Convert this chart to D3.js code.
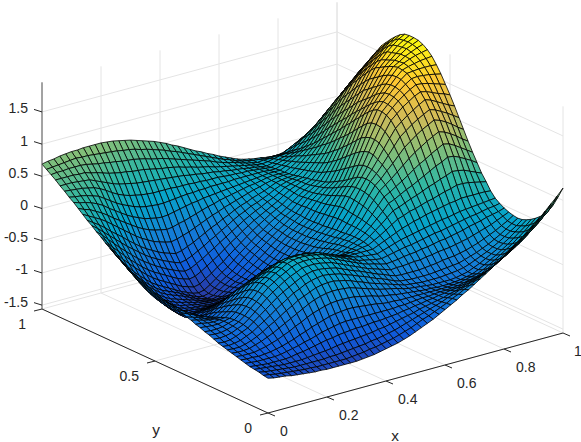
<!DOCTYPE html>
<html><head><meta charset="utf-8">
<script src="https://cdn.jsdelivr.net/npm/d3@7"></script>
<style>body{margin:0;background:#fff}text{font-family:"Liberation Sans",sans-serif;font-size:14px;fill:#262626}</style>
</head><body><svg width="581" height="442"></svg>
<script>
// Surface heights, estimated by eye: read off the picture about every 0.1, then filled in by hand.
// One row per y (0 to 1 in steps of 0.02), one value per x (0 to 1 in steps of 0.02).
const zRows = [
[-1.02,-1.04,-1.05,-1.06,-1.08,-1.09,-1.10,-1.11,-1.12,-1.12,-1.13,-1.13,-1.13,-1.13,-1.13,-1.13,-1.12,-1.11,-1.10,-1.08,-1.06,-1.04,-1.02,-.99,-.96,-.92,-.88,-.84,-.80,-.75,-.70,-.65,-.60,-.54,-.49,-.43,-.37,-.31,-.25,-.18,-.12,-.05,.02,.09,.16,.24,.32,.41,.50,.59,.69],
[-1.01,-1.02,-1.04,-1.05,-1.06,-1.07,-1.08,-1.09,-1.09,-1.10,-1.10,-1.10,-1.10,-1.10,-1.10,-1.09,-1.08,-1.07,-1.05,-1.04,-1.02,-1.00,-.98,-.95,-.92,-.89,-.85,-.81,-.78,-.74,-.70,-.66,-.61,-.57,-.52,-.48,-.43,-.38,-.33,-.27,-.22,-.16,-.09,-.03,.04,.11,.19,.27,.36,.44,.53],
[-.99,-1.01,-1.02,-1.03,-1.04,-1.05,-1.06,-1.06,-1.06,-1.06,-1.06,-1.06,-1.05,-1.05,-1.04,-1.03,-1.02,-1.01,-1.00,-.98,-.97,-.95,-.93,-.91,-.88,-.85,-.82,-.79,-.76,-.73,-.70,-.67,-.63,-.60,-.56,-.53,-.49,-.45,-.41,-.36,-.32,-.26,-.20,-.14,-.08,-.02,.05,.13,.21,.29,.38],
[-.98,-.99,-1.00,-1.01,-1.02,-1.03,-1.03,-1.03,-1.03,-1.02,-1.01,-1.00,-.99,-.98,-.96,-.95,-.94,-.93,-.92,-.91,-.90,-.88,-.87,-.85,-.83,-.81,-.79,-.77,-.74,-.72,-.70,-.68,-.66,-.63,-.61,-.58,-.55,-.52,-.49,-.45,-.41,-.36,-.30,-.25,-.19,-.13,-.06,.02,.09,.18,.26],
[-.97,-.98,-.99,-1.00,-1.00,-1.00,-1.00,-.99,-.97,-.96,-.94,-.92,-.90,-.88,-.87,-.85,-.84,-.83,-.82,-.82,-.81,-.80,-.80,-.79,-.78,-.77,-.75,-.74,-.72,-.71,-.69,-.68,-.66,-.65,-.63,-.62,-.60,-.57,-.55,-.52,-.49,-.45,-.39,-.34,-.28,-.22,-.15,-.08,-.01,.08,.16],
[-.95,-.96,-.97,-.97,-.97,-.97,-.96,-.94,-.92,-.90,-.87,-.85,-.82,-.79,-.77,-.75,-.73,-.72,-.72,-.72,-.72,-.72,-.72,-.72,-.72,-.72,-.71,-.71,-.70,-.69,-.68,-.68,-.67,-.66,-.66,-.65,-.64,-.62,-.60,-.58,-.55,-.50,-.45,-.40,-.34,-.28,-.22,-.15,-.07,.01,.09],
[-.93,-.94,-.94,-.95,-.94,-.93,-.91,-.89,-.86,-.83,-.79,-.76,-.72,-.69,-.66,-.63,-.61,-.60,-.59,-.59,-.60,-.61,-.62,-.63,-.65,-.66,-.66,-.67,-.67,-.67,-.67,-.67,-.67,-.67,-.67,-.67,-.66,-.65,-.63,-.61,-.59,-.55,-.50,-.45,-.39,-.33,-.27,-.20,-.13,-.05,.03],
[-.91,-.92,-.92,-.92,-.90,-.88,-.85,-.82,-.78,-.74,-.69,-.65,-.60,-.56,-.53,-.50,-.48,-.47,-.47,-.47,-.48,-.50,-.52,-.54,-.57,-.59,-.60,-.62,-.63,-.64,-.65,-.66,-.67,-.67,-.68,-.68,-.68,-.67,-.66,-.64,-.62,-.58,-.53,-.48,-.43,-.37,-.31,-.24,-.17,-.10,-.02],
[-.89,-.90,-.90,-.89,-.86,-.83,-.79,-.75,-.70,-.65,-.60,-.55,-.50,-.45,-.41,-.38,-.36,-.35,-.35,-.36,-.37,-.40,-.43,-.46,-.49,-.52,-.54,-.56,-.58,-.61,-.63,-.64,-.65,-.66,-.67,-.67,-.67,-.67,-.66,-.64,-.62,-.58,-.54,-.49,-.44,-.39,-.33,-.27,-.20,-.13,-.06],
[-.87,-.88,-.88,-.86,-.83,-.79,-.74,-.68,-.63,-.57,-.51,-.46,-.40,-.36,-.32,-.28,-.26,-.25,-.25,-.27,-.29,-.32,-.36,-.39,-.43,-.46,-.49,-.52,-.55,-.58,-.61,-.62,-.63,-.64,-.64,-.64,-.64,-.63,-.62,-.61,-.59,-.56,-.52,-.48,-.44,-.39,-.34,-.28,-.22,-.16,-.09],
[-.85,-.86,-.85,-.83,-.79,-.75,-.69,-.63,-.57,-.50,-.44,-.38,-.32,-.28,-.23,-.20,-.18,-.17,-.18,-.20,-.22,-.26,-.29,-.33,-.36,-.40,-.44,-.47,-.51,-.55,-.58,-.59,-.60,-.60,-.60,-.60,-.59,-.58,-.57,-.56,-.55,-.52,-.49,-.46,-.42,-.38,-.33,-.28,-.22,-.16,-.10],
[-.83,-.84,-.83,-.80,-.76,-.72,-.65,-.58,-.51,-.44,-.37,-.31,-.26,-.21,-.16,-.13,-.11,-.11,-.12,-.14,-.16,-.20,-.24,-.28,-.31,-.35,-.39,-.43,-.46,-.50,-.53,-.54,-.54,-.54,-.54,-.53,-.52,-.51,-.49,-.48,-.47,-.45,-.43,-.40,-.37,-.33,-.29,-.25,-.20,-.15,-.09],
[-.80,-.81,-.80,-.78,-.74,-.70,-.63,-.55,-.47,-.39,-.32,-.26,-.20,-.15,-.11,-.07,-.06,-.06,-.07,-.09,-.11,-.15,-.19,-.23,-.27,-.31,-.35,-.38,-.41,-.44,-.47,-.46,-.46,-.45,-.44,-.44,-.42,-.41,-.39,-.38,-.37,-.35,-.33,-.31,-.28,-.25,-.22,-.19,-.15,-.11,-.07],
[-.77,-.78,-.78,-.76,-.73,-.69,-.62,-.53,-.45,-.36,-.28,-.22,-.16,-.11,-.06,-.03,-.02,-.02,-.03,-.05,-.07,-.11,-.15,-.19,-.23,-.27,-.31,-.34,-.36,-.39,-.41,-.40,-.39,-.37,-.36,-.35,-.33,-.32,-.30,-.28,-.27,-.25,-.23,-.21,-.18,-.16,-.14,-.11,-.09,-.07,-.04],
[-.75,-.76,-.76,-.75,-.72,-.69,-.62,-.53,-.44,-.35,-.26,-.20,-.14,-.09,-.04,-.01,.00,.00,-.01,-.03,-.05,-.09,-.13,-.17,-.21,-.25,-.29,-.31,-.33,-.35,-.36,-.34,-.32,-.30,-.28,-.27,-.25,-.23,-.21,-.19,-.18,-.16,-.14,-.12,-.10,-.08,-.07,-.05,-.03,-.02,.00],
[-.72,-.73,-.74,-.74,-.72,-.70,-.63,-.54,-.45,-.36,-.27,-.21,-.15,-.10,-.05,-.02,-.01,-.01,-.02,-.04,-.05,-.09,-.13,-.17,-.21,-.24,-.27,-.29,-.30,-.31,-.32,-.29,-.26,-.23,-.20,-.18,-.16,-.14,-.12,-.10,-.08,-.06,-.05,-.03,-.01,.00,.01,.02,.03,.04,.05],
[-.70,-.71,-.73,-.74,-.73,-.72,-.65,-.57,-.48,-.39,-.30,-.25,-.19,-.14,-.09,-.06,-.05,-.05,-.06,-.07,-.09,-.13,-.17,-.20,-.23,-.26,-.28,-.28,-.28,-.28,-.28,-.24,-.20,-.16,-.12,-.08,-.05,-.02,.00,.03,.05,.07,.09,.11,.12,.14,.14,.14,.14,.14,.13],
[-.67,-.69,-.72,-.74,-.75,-.75,-.69,-.61,-.53,-.44,-.35,-.30,-.25,-.20,-.16,-.13,-.12,-.11,-.12,-.13,-.15,-.18,-.22,-.25,-.28,-.30,-.30,-.29,-.28,-.26,-.25,-.20,-.15,-.09,-.03,.03,.06,.10,.12,.15,.18,.20,.23,.26,.28,.31,.31,.30,.28,.26,.24],
[-.65,-.68,-.71,-.75,-.77,-.78,-.72,-.65,-.58,-.50,-.41,-.36,-.32,-.27,-.23,-.20,-.19,-.18,-.19,-.20,-.22,-.25,-.28,-.31,-.33,-.34,-.34,-.32,-.29,-.26,-.23,-.17,-.10,-.03,.05,.13,.16,.20,.24,.27,.31,.35,.38,.42,.45,.49,.48,.46,.42,.38,.34],
[-.62,-.66,-.70,-.75,-.78,-.81,-.76,-.70,-.64,-.56,-.48,-.43,-.39,-.34,-.30,-.27,-.26,-.26,-.26,-.28,-.30,-.33,-.35,-.37,-.38,-.38,-.37,-.34,-.30,-.26,-.22,-.15,-.07,.02,.11,.21,.25,.30,.35,.39,.44,.49,.54,.59,.63,.68,.67,.63,.58,.53,.47],
[-.60,-.65,-.70,-.75,-.80,-.85,-.80,-.75,-.69,-.62,-.55,-.50,-.46,-.42,-.38,-.35,-.34,-.34,-.35,-.36,-.38,-.40,-.41,-.42,-.42,-.42,-.39,-.35,-.31,-.26,-.22,-.14,-.05,.06,.17,.28,.33,.39,.45,.51,.58,.64,.69,.75,.80,.85,.83,.78,.72,.66,.60],
[-.58,-.64,-.71,-.77,-.83,-.89,-.85,-.80,-.75,-.69,-.63,-.59,-.55,-.50,-.47,-.44,-.44,-.44,-.45,-.46,-.47,-.48,-.48,-.48,-.47,-.46,-.42,-.37,-.32,-.27,-.22,-.13,-.03,.10,.22,.34,.41,.48,.56,.64,.72,.79,.85,.91,.96,1.01,.98,.93,.87,.80,.74],
[-.56,-.64,-.72,-.79,-.86,-.93,-.90,-.86,-.82,-.77,-.72,-.68,-.64,-.60,-.57,-.54,-.54,-.54,-.55,-.55,-.56,-.56,-.55,-.54,-.52,-.50,-.45,-.39,-.34,-.28,-.23,-.13,-.02,.12,.26,.39,.47,.57,.66,.76,.86,.93,1.00,1.06,1.11,1.16,1.13,1.08,1.02,.95,.89],
[-.54,-.63,-.72,-.81,-.89,-.96,-.94,-.91,-.88,-.84,-.80,-.77,-.74,-.70,-.67,-.64,-.64,-.64,-.64,-.65,-.65,-.64,-.62,-.60,-.57,-.54,-.48,-.42,-.36,-.30,-.24,-.13,-.01,.14,.28,.42,.52,.63,.75,.87,.99,1.06,1.13,1.19,1.24,1.29,1.26,1.21,1.16,1.10,1.04],
[-.52,-.63,-.73,-.82,-.91,-.98,-.97,-.95,-.93,-.91,-.88,-.85,-.82,-.79,-.76,-.73,-.73,-.73,-.73,-.73,-.73,-.71,-.68,-.65,-.61,-.57,-.51,-.44,-.37,-.31,-.24,-.12,.00,.15,.29,.43,.55,.68,.82,.96,1.09,1.17,1.24,1.30,1.36,1.41,1.38,1.33,1.28,1.23,1.19],
[-.50,-.62,-.73,-.83,-.92,-1.00,-1.00,-.99,-.98,-.97,-.95,-.93,-.90,-.87,-.85,-.82,-.81,-.81,-.81,-.80,-.80,-.77,-.74,-.70,-.65,-.60,-.53,-.46,-.39,-.32,-.25,-.12,.02,.16,.29,.42,.56,.72,.88,1.03,1.18,1.26,1.34,1.40,1.46,1.50,1.48,1.44,1.40,1.37,1.33],
[-.47,-.60,-.72,-.83,-.92,-1.00,-1.02,-1.03,-1.03,-1.02,-1.01,-.99,-.97,-.95,-.92,-.90,-.89,-.88,-.87,-.87,-.86,-.83,-.78,-.73,-.68,-.62,-.55,-.47,-.40,-.33,-.26,-.13,.01,.15,.27,.39,.55,.73,.90,1.07,1.23,1.32,1.40,1.47,1.53,1.58,1.57,1.55,1.52,1.49,1.46],
[-.44,-.58,-.70,-.82,-.91,-.99,-1.02,-1.05,-1.06,-1.06,-1.06,-1.05,-1.04,-1.02,-1.00,-.98,-.96,-.95,-.93,-.92,-.91,-.87,-.82,-.76,-.70,-.64,-.56,-.48,-.41,-.34,-.27,-.14,-.01,.12,.24,.34,.52,.71,.90,1.08,1.25,1.34,1.43,1.51,1.58,1.64,1.65,1.64,1.63,1.61,1.59],
[-.41,-.55,-.68,-.80,-.89,-.97,-1.01,-1.05,-1.07,-1.08,-1.09,-1.09,-1.09,-1.08,-1.06,-1.04,-1.02,-1.00,-.98,-.96,-.95,-.90,-.85,-.78,-.72,-.65,-.57,-.49,-.42,-.34,-.27,-.15,-.03,.09,.20,.29,.47,.67,.87,1.07,1.25,1.35,1.44,1.53,1.62,1.69,1.70,1.71,1.71,1.71,1.70],
[-.38,-.52,-.66,-.78,-.87,-.95,-1.00,-1.04,-1.07,-1.09,-1.10,-1.11,-1.12,-1.12,-1.11,-1.09,-1.07,-1.04,-1.01,-.99,-.97,-.92,-.86,-.80,-.73,-.65,-.57,-.49,-.42,-.35,-.28,-.16,-.05,.06,.16,.24,.42,.62,.83,1.03,1.21,1.32,1.43,1.53,1.63,1.71,1.74,1.76,1.78,1.79,1.80],
[-.35,-.49,-.63,-.75,-.84,-.92,-.98,-1.02,-1.06,-1.08,-1.10,-1.12,-1.13,-1.14,-1.14,-1.13,-1.11,-1.08,-1.04,-1.01,-.98,-.93,-.87,-.80,-.73,-.65,-.57,-.49,-.42,-.35,-.28,-.17,-.06,.03,.12,.20,.37,.56,.76,.96,1.15,1.27,1.39,1.51,1.62,1.72,1.76,1.80,1.83,1.85,1.87],
[-.31,-.45,-.59,-.71,-.80,-.88,-.95,-1.00,-1.04,-1.07,-1.09,-1.12,-1.14,-1.16,-1.17,-1.17,-1.15,-1.11,-1.06,-1.02,-.98,-.92,-.86,-.79,-.72,-.64,-.56,-.49,-.42,-.35,-.28,-.17,-.07,.01,.09,.16,.32,.50,.69,.89,1.08,1.21,1.34,1.47,1.59,1.70,1.75,1.81,1.85,1.89,1.92],
[-.27,-.41,-.54,-.66,-.76,-.84,-.91,-.97,-1.02,-1.05,-1.08,-1.11,-1.14,-1.17,-1.19,-1.20,-1.18,-1.13,-1.08,-1.03,-.98,-.91,-.84,-.77,-.70,-.62,-.55,-.47,-.41,-.34,-.27,-.17,-.08,-.01,.06,.12,.27,.44,.62,.81,1.00,1.14,1.27,1.41,1.55,1.67,1.74,1.81,1.87,1.91,1.95],
[-.22,-.36,-.49,-.61,-.70,-.79,-.86,-.93,-.98,-1.02,-1.05,-1.09,-1.13,-1.17,-1.20,-1.22,-1.20,-1.14,-1.08,-1.02,-.97,-.89,-.82,-.74,-.67,-.60,-.53,-.46,-.40,-.33,-.27,-.18,-.09,-.03,.04,.09,.23,.38,.56,.74,.93,1.07,1.21,1.36,1.50,1.63,1.71,1.79,1.86,1.92,1.96],
[-.18,-.31,-.44,-.55,-.65,-.74,-.82,-.89,-.95,-.99,-1.03,-1.07,-1.12,-1.16,-1.20,-1.22,-1.20,-1.14,-1.07,-1.01,-.95,-.87,-.79,-.72,-.65,-.58,-.51,-.45,-.38,-.32,-.26,-.18,-.10,-.04,.02,.07,.19,.33,.49,.67,.85,1.00,1.15,1.30,1.45,1.59,1.68,1.77,1.85,1.91,1.96],
[-.13,-.26,-.38,-.49,-.59,-.68,-.76,-.84,-.90,-.95,-1.00,-1.05,-1.10,-1.14,-1.18,-1.20,-1.18,-1.12,-1.05,-.98,-.92,-.84,-.76,-.69,-.62,-.55,-.49,-.42,-.36,-.31,-.25,-.18,-.11,-.05,.00,.05,.15,.28,.44,.61,.78,.93,1.09,1.25,1.40,1.55,1.65,1.75,1.83,1.90,1.95],
[-.08,-.19,-.31,-.41,-.50,-.59,-.67,-.75,-.82,-.88,-.93,-.98,-1.03,-1.08,-1.11,-1.14,-1.12,-1.06,-1.00,-.93,-.87,-.79,-.72,-.65,-.58,-.51,-.45,-.39,-.33,-.28,-.23,-.16,-.10,-.05,-.01,.03,.12,.24,.38,.54,.70,.85,1.01,1.17,1.33,1.48,1.59,1.69,1.78,1.85,1.91],
[-.02,-.12,-.23,-.32,-.41,-.50,-.58,-.66,-.73,-.79,-.84,-.89,-.94,-.99,-1.02,-1.05,-1.03,-.98,-.92,-.86,-.80,-.73,-.66,-.60,-.53,-.47,-.41,-.36,-.31,-.26,-.21,-.15,-.09,-.05,-.01,.02,.10,.21,.33,.48,.63,.78,.93,1.09,1.25,1.40,1.51,1.61,1.71,1.79,1.85],
[.03,-.05,-.14,-.23,-.32,-.40,-.48,-.56,-.63,-.69,-.75,-.80,-.85,-.89,-.93,-.96,-.94,-.89,-.84,-.78,-.72,-.66,-.60,-.54,-.48,-.42,-.37,-.32,-.28,-.23,-.19,-.14,-.08,-.05,-.02,.00,.08,.18,.29,.42,.56,.71,.86,1.01,1.17,1.32,1.43,1.53,1.62,1.71,1.78],
[.09,.02,-.06,-.14,-.22,-.30,-.38,-.45,-.52,-.59,-.65,-.70,-.75,-.79,-.83,-.86,-.84,-.80,-.75,-.70,-.64,-.59,-.53,-.48,-.42,-.37,-.33,-.28,-.25,-.21,-.17,-.12,-.08,-.05,-.03,-.01,.06,.15,.25,.37,.49,.63,.78,.93,1.08,1.23,1.34,1.44,1.53,1.62,1.70],
[.14,.08,.02,-.05,-.13,-.20,-.27,-.35,-.42,-.49,-.55,-.60,-.65,-.69,-.72,-.75,-.73,-.69,-.65,-.60,-.55,-.50,-.46,-.41,-.37,-.32,-.28,-.25,-.21,-.18,-.15,-.11,-.07,-.05,-.04,-.03,.04,.12,.21,.31,.42,.56,.70,.85,1.00,1.15,1.25,1.35,1.44,1.53,1.62],
[.20,.15,.10,.05,-.01,-.08,-.15,-.22,-.29,-.36,-.42,-.47,-.52,-.55,-.58,-.60,-.58,-.55,-.52,-.48,-.44,-.40,-.36,-.33,-.29,-.26,-.23,-.20,-.17,-.14,-.12,-.09,-.07,-.05,-.04,-.04,.02,.09,.17,.26,.35,.48,.62,.76,.91,1.05,1.15,1.24,1.33,1.42,1.51],
[.26,.22,.19,.14,.09,.03,-.04,-.10,-.16,-.22,-.28,-.33,-.37,-.40,-.42,-.44,-.43,-.40,-.38,-.35,-.32,-.29,-.26,-.24,-.21,-.19,-.17,-.15,-.13,-.11,-.10,-.08,-.06,-.05,-.05,-.05,.00,.06,.13,.21,.28,.40,.53,.67,.81,.95,1.04,1.13,1.22,1.31,1.40],
[.32,.29,.27,.24,.20,.15,.08,.02,-.04,-.10,-.15,-.19,-.23,-.25,-.27,-.28,-.27,-.25,-.23,-.21,-.19,-.18,-.16,-.15,-.14,-.13,-.12,-.11,-.10,-.09,-.08,-.07,-.06,-.05,-.05,-.05,-.01,.04,.10,.16,.22,.33,.45,.58,.71,.84,.93,1.02,1.11,1.20,1.28],
[.37,.35,.34,.32,.29,.26,.20,.14,.08,.03,-.01,-.05,-.08,-.10,-.11,-.12,-.12,-.11,-.10,-.09,-.08,-.08,-.07,-.07,-.06,-.06,-.06,-.06,-.05,-.05,-.05,-.05,-.05,-.05,-.06,-.06,-.03,.01,.06,.11,.16,.26,.37,.49,.61,.73,.82,.91,1.00,1.09,1.17],
[.43,.42,.41,.40,.38,.36,.32,.27,.21,.16,.12,.09,.07,.05,.04,.03,.03,.03,.03,.02,.02,.02,.01,.01,.00,.00,.00,-.01,-.02,-.02,-.03,-.03,-.04,-.05,-.06,-.07,-.04,-.01,.02,.06,.10,.19,.29,.40,.51,.62,.71,.79,.88,.96,1.05],
[.48,.48,.48,.47,.46,.45,.41,.37,.33,.29,.26,.24,.22,.20,.19,.18,.17,.16,.15,.14,.13,.12,.10,.09,.07,.06,.05,.03,.02,.00,-.01,-.02,-.04,-.05,-.07,-.08,-.06,-.03,-.01,.02,.05,.13,.22,.31,.41,.50,.58,.67,.76,.85,.93],
[.54,.54,.54,.54,.53,.53,.50,.48,.45,.42,.40,.38,.37,.35,.34,.33,.31,.29,.27,.26,.24,.22,.19,.17,.14,.12,.10,.07,.05,.03,.01,-.01,-.03,-.05,-.07,-.08,-.07,-.05,-.03,-.02,.00,.07,.15,.22,.30,.38,.47,.55,.64,.73,.81],
[.59,.60,.60,.61,.61,.61,.60,.58,.56,.55,.53,.52,.50,.49,.48,.46,.44,.41,.39,.37,.34,.31,.28,.25,.22,.19,.16,.13,.09,.06,.03,.01,-.02,-.05,-.07,-.09,-.08,-.08,-.07,-.07,-.06,.00,.06,.13,.19,.26,.35,.43,.51,.60,.68],
[.64,.65,.66,.67,.68,.69,.68,.68,.67,.66,.65,.64,.63,.61,.60,.58,.55,.53,.50,.47,.44,.40,.37,.33,.29,.25,.21,.17,.13,.09,.05,.02,-.02,-.05,-.07,-.09,-.10,-.11,-.11,-.11,-.11,-.06,-.01,.04,.09,.14,.22,.31,.39,.48,.56],
[.69,.71,.72,.74,.75,.76,.76,.77,.77,.77,.77,.76,.75,.73,.71,.69,.66,.63,.60,.57,.53,.49,.44,.40,.35,.30,.25,.21,.16,.12,.07,.03,-.01,-.05,-.08,-.10,-.12,-.13,-.15,-.16,-.16,-.14,-.10,-.06,-.02,.03,.11,.19,.27,.35,.44]
];
const xValues = d3.range(51).map(i => i / 50);
const yValues = xValues;
const xTicks = [0, .2, .4, .6, .8, 1];
const yTicks = [0, .5, 1];
const zTicks = [-1.5, -1, -.5, 0, .5, 1, 1.5];
const parula = ['#352a87','#0f5cdd','#1481d6','#06a4ca','#2eb7a4','#87bf77','#d1bb59','#fec832','#f9fb0e'];
const zLim = [-1.56, 1.96], cLim = [-1.38, 1.95];

// Fixed oblique view: each axis adds its own screen offset
const xh = d3.scaleLinear([0, 1], [268, 563]), xv = d3.scaleLinear([0, 1], [0, -80]);
const yh = d3.scaleLinear([0, 1], [0, -226]), yv = d3.scaleLinear([0, 1], [0, -104]);
const zv = d3.scaleLinear(zLim, [413, 186.3]);
const P = (x, y, z) => [xh(x) + yh(y), zv(z) + xv(x) + yv(y)];
const color = d3.scaleLinear()
  .domain(parula.map((c, i) => cLim[0] + (cLim[1] - cLim[0]) * i / 8))
  .range(parula).clamp(true);

const svg = d3.select("svg"), line = d3.line();
const seg = (g, a, b) => g.append("path").attr("d", line([a, b]));

// Grid on the floor and back walls
const grid = svg.append("g").attr("fill", "none").attr("stroke", "#e4e4e4");
xTicks.forEach(x => { seg(grid, P(x, 0, zLim[0]), P(x, 1, zLim[0])); seg(grid, P(x, 1, zLim[0]), P(x, 1, zLim[1])); });
yTicks.forEach(y => { seg(grid, P(0, y, zLim[0]), P(1, y, zLim[0])); seg(grid, P(1, y, zLim[0]), P(1, y, zLim[1])); });
zTicks.forEach(z => { seg(grid, P(0, 1, z), P(1, 1, z)); seg(grid, P(1, 1, z), P(1, 0, z)); });

// Surface, drawn far corner first so nearer cells cover farther ones
const cells = svg.append("g").attr("stroke", "#000").attr("stroke-width", .8).attr("stroke-linejoin", "round");
for (let j = yValues.length - 2; j >= 0; j--) {
  for (let i = xValues.length - 2; i >= 0; i--) {
    cells.append("path")
      .attr("fill", color(zRows[j][i]))
      .attr("d", line([
        P(xValues[i], yValues[j], zRows[j][i]),
        P(xValues[i + 1], yValues[j], zRows[j][i + 1]),
        P(xValues[i + 1], yValues[j + 1], zRows[j + 1][i + 1]),
        P(xValues[i], yValues[j + 1], zRows[j + 1][i])
      ]) + "Z");
  }
}

// Axes, ticks and labels
const ax = svg.append("g").attr("fill", "none").attr("stroke", "#262626");
seg(ax, P(0, 0, zLim[0]), P(1, 0, zLim[0]));
seg(ax, P(0, 0, zLim[0]), P(0, 1, zLim[0]));
seg(ax, P(0, 1, zLim[0]), P(0, 1, zLim[1])).attr("stroke", "#555");
const add = (p, dx, dy) => [p[0] + dx, p[1] + dy];
xTicks.forEach(x => {
  const p = P(x, 0, zLim[0]);
  seg(ax, p, add(p, 7, 3));
  svg.append("text").attr("x", p[0] + (x == 1 ? 11 : 12)).attr("y", p[1] + 23).text(x);
});
yTicks.forEach(y => {
  const p = P(0, y, zLim[0]);
  seg(ax, p, add(p, -8, 2));
  svg.append("text").attr("x", p[0] - 16).attr("y", p[1] + 20).attr("text-anchor", "end").text(y);
});
zTicks.forEach(z => {
  const p = P(0, 1, z);
  seg(ax, p, add(p, -8, -2.5));
  svg.append("text").attr("x", 28).attr("y", p[1] + 1.5).attr("text-anchor", "end").text(z);
});
svg.append("text").attr("x", 395).attr("y", 440.5).attr("text-anchor", "middle").style("font-size", "15.4px").text("x");
svg.append("text").attr("x", 156).attr("y", 435).attr("text-anchor", "middle").style("font-size", "15.4px").text("y");
</script></body></html>
